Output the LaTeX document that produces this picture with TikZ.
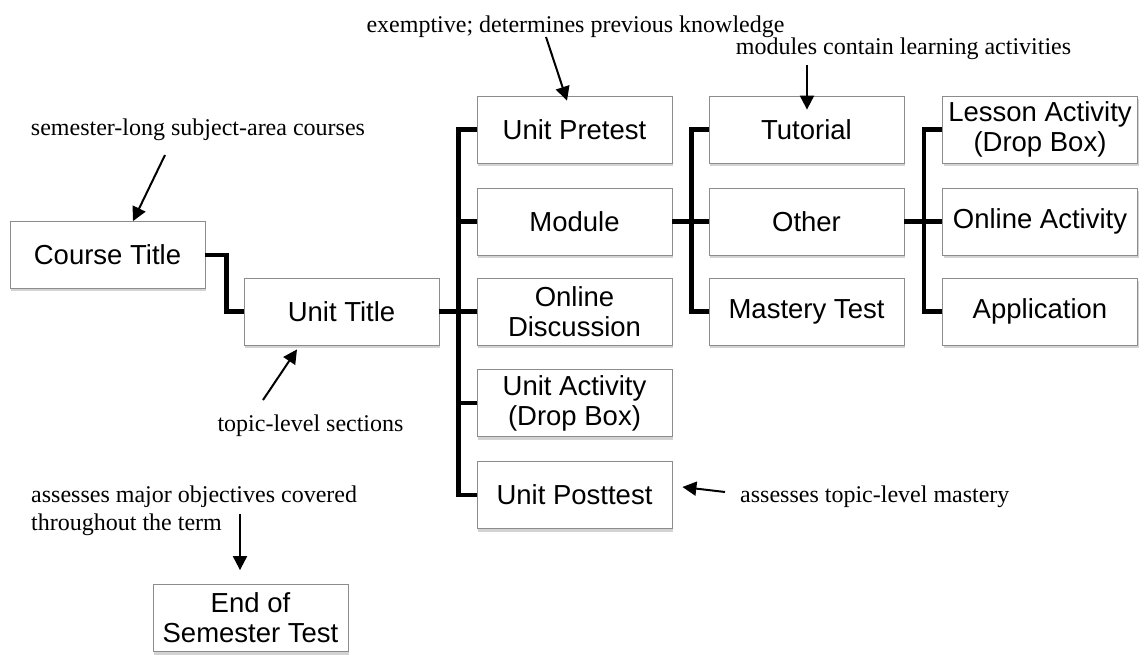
\documentclass[tikz,border=0pt]{standalone}
\usepackage{fontspec}
\setmainfont{Liberation Serif}
\newfontfamily\boxfont{Liberation Sans}
\usetikzlibrary{arrows.meta,shadows}

\tikzset{
  unitbox/.style={draw=black!45, fill=white, line width=0.8pt, minimum width=195pt, minimum height=67pt,
    inner sep=0pt, align=center, font=\boxfont\fontsize{27.5}{30}\selectfont,
    drop shadow={shadow xshift=1pt, shadow yshift=-3pt, opacity=0.35}},
  link/.style={line width=4.5pt},
  note/.style={-{Triangle[length=14pt,width=14pt]}, line width=2pt},
  notetext/.style={font=\fontsize{24}{28}\selectfont, inner sep=0pt},
}

\begin{document}
\begin{tikzpicture}[x=1pt,y=-1pt]
  \useasboundingbox (0,0) rectangle (1144,655);
  % boxes, one column at a time
  \node[unitbox] (course) at (107.5,255) {Course Title};
  \node[unitbox] (unit) at (341.5,311.5) {Unit Title};
  \foreach \n/\y/\t in {pretest/129.5/Unit Pretest,module/221.5/Module,discuss/311.5/Online\\Discussion,
      activity/403/Unit Activity\\(Drop Box),posttest/495/Unit Posttest}
    \node[unitbox] (\n) at (574.5,\y) {\t};
  \foreach \n/\y/\t in {tutorial/129.5/Tutorial,other/221.5/Other,mastery/311.5/Mastery Test}
    \node[unitbox] (\n) at (806.5,\y) {\t};
  \foreach \n/\y/\t in {lesson/129.5/Lesson Activity\\(Drop Box),online/221.5/Online Activity,application/311.5/Application}
    \node[unitbox] (\n) at (1040,\y) {\t};
  \node[unitbox] (endtest) at (250.5,618) {End of\\Semester Test};

  % tree lines
  \draw[link] (course.east) -- ++(21,0) |- (unit.west);
  \draw[link] (unit.east) -- (discuss.west);
  \draw[link] (pretest.west) -- ++(-18,0) |- (posttest.west);
  \foreach \n in {module,activity} \draw[link] (\n.west) -- ++(-18,0);
  \draw[link] (module.east) -- (other.west);
  \draw[link] (tutorial.west) -- ++(-17,0) |- (mastery.west);
  \draw[link] (other.east) -- (online.west);
  \draw[link] (lesson.west) -- ++(-18,0) |- (application.west);

  % notes
  \node[notetext, anchor=base] (semtext) at (198,136) {semester-long subject-area courses};
  \node[notetext, anchor=base] (toptext) at (310.5,431) {topic-level sections};
  \node[notetext, anchor=base] (pretext) at (575.5,33) {exemptive; determines previous knowledge};
  \node[notetext, anchor=base] (modtext) at (903.5,55) {modules contain learning activities};
  \node[notetext, anchor=base west] (posttext) at (740,502) {assesses topic-level mastery};
  \node[notetext, anchor=base west, align=left] (endtext) at (31,530) {assesses major objectives covered\\throughout the term};

  \coordinate (semtail) at (165,155);
  \coordinate (toptail) at (263,400);
  \coordinate (pretail) at (546,37);
  \coordinate (modtail) at (807,65);
  \coordinate (posttail) at (725,492);
  \coordinate (endtail) at (240,514);
  \draw[note] (semtail) -- ([xshift=25.5pt]course.north);
  \draw[note] (toptail) -- ([xshift=-44.5pt,yshift=-4pt]unit.south);
  \draw[note] (pretail) -- ([xshift=-7.5pt,yshift=-5pt]pretest.north);
  \draw[note] (modtail) -- ([xshift=0.5pt,yshift=-14pt]tutorial.north);
  \draw[note] (posttail) -- ([xshift=10pt,yshift=8pt]posttest.east);
  \draw[note] (endtail) -- ([xshift=-10.5pt,yshift=14pt]endtest.north);
\end{tikzpicture}
\end{document}
